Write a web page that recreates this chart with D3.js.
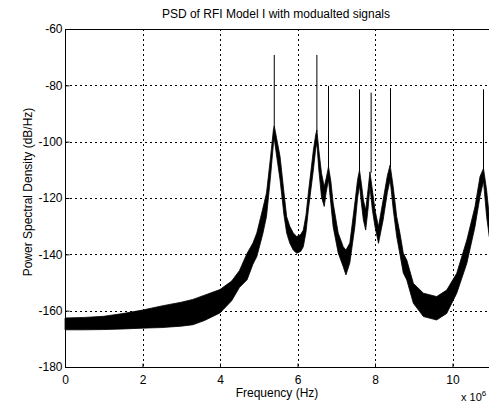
<!DOCTYPE html>
<html lang="en">
<head>
<meta charset="UTF-8">
<title>PSD of RFI Model I</title>
<script src="https://d3js.org/d3.v7.min.js"></script>
<style>
  body { margin: 0; background: #fff; }
  text { font-family: "Liberation Sans", Arial, sans-serif; }
</style>
</head>
<body>
<div id="chart"></div>
<script>
// frequency (x 10^?) and noise band of the PSD trace
var freq = [0.0, 0.5, 1.0, 1.5, 2.0, 2.5, 3.0, 3.3, 3.6, 4.0, 4.3, 4.5, 4.7, 4.85, 4.95, 5.1, 5.2, 5.3, 5.38, 5.40,
            5.45, 5.55, 5.65, 5.72, 5.8, 5.89, 5.98, 6.08, 6.15, 6.22, 6.28, 6.35, 6.41, 6.47, 6.50,
            6.55, 6.62, 6.69, 6.74, 6.80, 6.86, 6.92, 7.05, 7.18, 7.25, 7.35, 7.48, 7.55, 7.60,
            7.65, 7.70, 7.76, 7.82, 7.87, 7.93, 8.00, 8.09, 8.21, 8.32, 8.39, 8.47, 8.56, 8.65, 8.73,
            8.82, 8.99, 9.25, 9.59, 9.85, 10.11, 10.37, 10.58, 10.71, 10.80, 10.88, 10.95];
var psdUpper = [-162.6, -162.4, -162.0, -161.0, -159.8, -158.3, -157.0, -156.0, -154.5, -152.5, -149.5, -145.8, -139.6, -136.0, -132.4, -124.0, -118.2, -106.0, -95.5, -94.4,
                -98.0, -105.3, -118.0, -126.6, -130.0, -132.4, -133.7, -133.0, -131.4, -126.0, -118.2, -110.0, -103.0, -97.5, -95.9,
                -103.0, -111.2, -116.0, -113.0, -108.9, -114.0, -121.8, -132.4, -137.3, -138.5, -136.0, -121.8, -113.5, -110.1,
                -115.0, -120.7, -124.3, -117.0, -110.7, -117.0, -124.3, -130.2, -120.7, -112.0, -108.3, -116.0, -126.6, -133.0, -139.6,
                -142.0, -150.3, -153.8, -155.0, -152.7, -146.7, -134.9, -123.1, -112.4, -109.5, -117.2, -126.6];
var psdLower = [-166.8, -166.8, -166.7, -166.5, -166.2, -166.0, -165.5, -165.0, -163.5, -160.8, -156.5, -151.8, -149.0, -143.5, -140.8, -133.0, -126.6, -113.0, -100.5, -99.0,
                -104.0, -113.6, -126.0, -132.4, -136.0, -138.5, -139.6, -139.0, -137.3, -132.0, -124.3, -116.5, -110.0, -102.5, -100.5,
                -110.0, -119.7, -123.0, -118.0, -113.5, -122.0, -130.2, -139.5, -144.4, -147.3, -143.1, -130.2, -120.0, -115.5,
                -122.0, -127.8, -131.4, -124.0, -116.0, -124.0, -130.2, -136.1, -127.8, -118.0, -113.5, -124.0, -133.7, -140.5, -146.6,
                -149.1, -157.4, -162.1, -163.3, -161.0, -153.8, -143.2, -130.2, -119.5, -114.0, -126.6, -133.7];

// narrow-band carriers
var spikeFreq = [5.40, 6.50, 6.80, 7.60, 7.90, 8.40, 10.80];
var spikeTop  = [-69.2, -69.2, -80.2, -81.4, -82.6, -81.0, -81.4];
var spikeBase = [-95.0, -96.5, -109.5, -110.5, -111.0, -109.0, -110.0];

var xTicks = [0, 2, 4, 6, 8, 10];
var yTicks = [-180, -160, -140, -120, -100, -80, -60];

var W = 489, H = 404;
var margin = {top: 29, left: 65, bottom: 37};
var plotH = H - margin.top - margin.bottom;

var svg = d3.select("#chart").append("svg")
    .attr("width", W)
    .attr("height", H);

var x = d3.scaleLinear().domain([0, 11]).range([margin.left, margin.left + 11 * 38.75]);
var y = d3.scaleLinear().domain([-180, -60]).range([margin.top + plotH, margin.top]);

// grid
svg.append("g")
    .selectAll("line")
    .data(xTicks.slice(1))
    .enter().append("line")
    .attr("x1", function(d) { return Math.round(x(d)) + 0.5; })
    .attr("x2", function(d) { return Math.round(x(d)) + 0.5; })
    .attr("y1", y(-60))
    .attr("y2", y(-180))
    .attr("stroke", "#000")
    .attr("stroke-dasharray", "2,3");

svg.append("g")
    .selectAll("line")
    .data(yTicks.slice(1, -1))
    .enter().append("line")
    .attr("x1", x(0))
    .attr("x2", W)
    .attr("y1", function(d) { return Math.round(y(d)) + 0.5; })
    .attr("y2", function(d) { return Math.round(y(d)) + 0.5; })
    .attr("stroke", "#000")
    .attr("stroke-dasharray", "2,3");

// PSD band
var band = freq.map(function(f, i) { return {f: f, hi: psdUpper[i], lo: psdLower[i]}; });

var area = d3.area()
    .x(function(d) { return x(d.f); })
    .y0(function(d) { return y(d.lo); })
    .y1(function(d) { return y(d.hi); });

svg.append("path")
    .datum(band)
    .attr("d", area)
    .attr("fill", "#000")
    .attr("stroke", "#000")
    .attr("stroke-width", 0.8);

// spikes
svg.append("g")
    .selectAll("line")
    .data(spikeFreq)
    .enter().append("line")
    .attr("x1", function(d) { return x(d); })
    .attr("x2", function(d) { return x(d); })
    .attr("y1", function(d, i) { return y(spikeTop[i]); })
    .attr("y2", function(d, i) { return y(spikeBase[i]); })
    .attr("stroke", "#000")
    .attr("stroke-width", 1);

// axes
var xAxis = d3.axisBottom(x).tickValues(xTicks).tickSize(-4).tickPadding(8).tickFormat(d3.format("d"));
var yAxis = d3.axisLeft(y).tickValues(yTicks).tickSize(-4).tickPadding(3).tickFormat(function(d) { return String(d); });

var gx = svg.append("g")
    .attr("transform", "translate(0," + (Math.round(y(-180)) + 0.5) + ")")
    .call(xAxis);
var gy = svg.append("g")
    .attr("transform", "translate(" + (Math.round(x(0)) + 0.5) + ",0)")
    .call(yAxis);

[gx, gy].forEach(function(g) {
    g.select(".domain").attr("stroke", "#000").attr("shape-rendering", "crispEdges");
    g.selectAll(".tick line").attr("stroke", "#000");
    g.selectAll("text").attr("fill", "#000").style("font-size", "12px")
        .style("font-family", "'Liberation Sans', Arial, sans-serif");
});
gx.select(".domain").attr("d", "M" + x(0) + ",0H" + W);
gy.select(".domain").attr("d", "M0," + y(-180) + "V" + y(-60));

// top box line
svg.append("line")
    .attr("x1", x(0)).attr("x2", W)
    .attr("y1", Math.round(y(-60)) + 0.5).attr("y2", Math.round(y(-60)) + 0.5)
    .attr("stroke", "#000");

// labels
svg.append("text")
    .attr("x", 276)
    .attr("y", 18)
    .attr("text-anchor", "middle")
    .style("font-size", "12px")
    .text("PSD of RFI Model I with modualted signals");

svg.append("text")
    .attr("x", 277)
    .attr("y", 397)
    .attr("text-anchor", "middle")
    .style("font-size", "12px")
    .text("Frequency (Hz)");

svg.append("text")
    .attr("transform", "translate(32,192) rotate(-90)")
    .attr("text-anchor", "middle")
    .style("font-size", "12px")
    .text("Power Spectral Density (dB/Hz)");

var mult = svg.append("text")
    .attr("x", 461)
    .attr("y", 401)
    .style("font-size", "11px");
mult.append("tspan").text("x 10");
mult.append("tspan").attr("dy", -5).style("font-size", "8px").text("6");
</script>
</body>
</html>
